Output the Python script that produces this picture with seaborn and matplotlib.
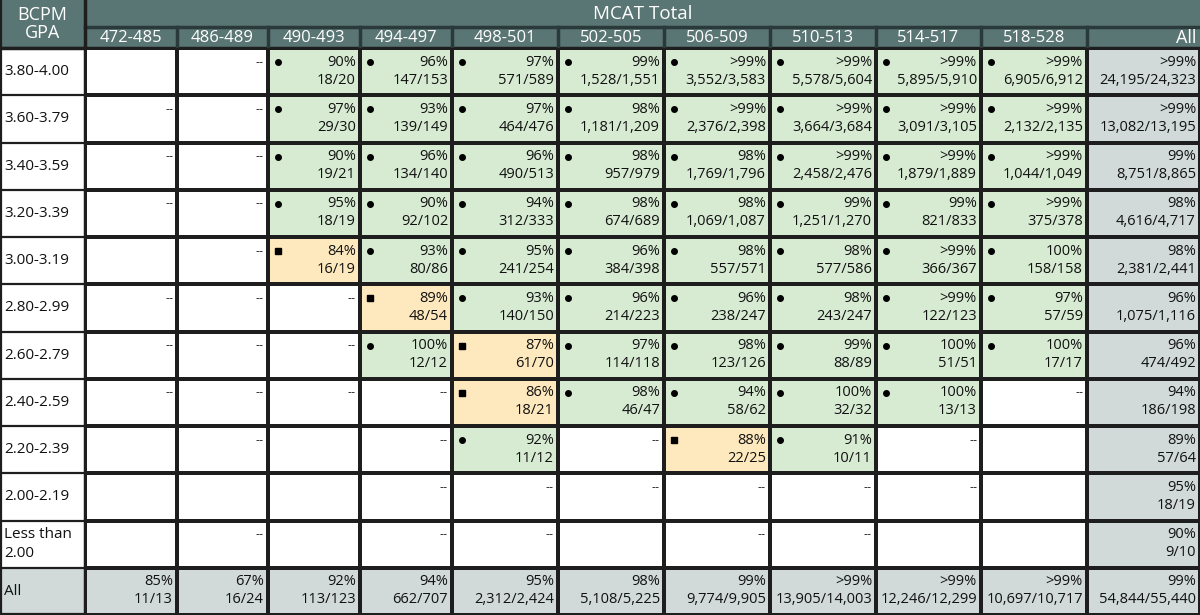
import numpy as np
import pandas as pd
import seaborn as sns
import matplotlib
matplotlib.use("Agg")
import matplotlib.pyplot as plt
from matplotlib.colors import ListedColormap
from matplotlib.patches import Rectangle
from matplotlib.transforms import offset_copy

FONT = "Open Sans"
columns = ["472-485", "486-489", "490-493", "494-497", "498-501", "502-505",
           "506-509", "510-513", "514-517", "518-528", "All"]
row_labels = ["3.80-4.00", "3.60-3.79", "3.40-3.59", "3.20-3.39", "3.00-3.19",
              "2.80-2.99", "2.60-2.79", "2.40-2.59", "2.20-2.39", "2.00-2.19",
              "Less than\n2.00", "All"]

# cell format: "g|pct|count" (green, dot), "y|pct|count" (yellow, square),
# "a|pct|count" (summary, grey), "--" (dash), "" (empty)
r00 = ["", "--", "g|90%|18/20", "g|96%|147/153", "g|97%|571/589", "g|99%|1,528/1,551",
       "g|>99%|3,552/3,583", "g|>99%|5,578/5,604", "g|>99%|5,895/5,910", "g|>99%|6,905/6,912", "a|>99%|24,195/24,323"]
r01 = ["--", "--", "g|97%|29/30", "g|93%|139/149", "g|97%|464/476", "g|98%|1,181/1,209",
       "g|>99%|2,376/2,398", "g|>99%|3,664/3,684", "g|>99%|3,091/3,105", "g|>99%|2,132/2,135", "a|>99%|13,082/13,195"]
r02 = ["--", "--", "g|90%|19/21", "g|96%|134/140", "g|96%|490/513", "g|98%|957/979",
       "g|98%|1,769/1,796", "g|>99%|2,458/2,476", "g|>99%|1,879/1,889", "g|>99%|1,044/1,049", "a|99%|8,751/8,865"]
r03 = ["--", "--", "g|95%|18/19", "g|90%|92/102", "g|94%|312/333", "g|98%|674/689",
       "g|98%|1,069/1,087", "g|99%|1,251/1,270", "g|99%|821/833", "g|>99%|375/378", "a|98%|4,616/4,717"]
r04 = ["", "--", "y|84%|16/19", "g|93%|80/86", "g|95%|241/254", "g|96%|384/398",
       "g|98%|557/571", "g|98%|577/586", "g|>99%|366/367", "g|100%|158/158", "a|98%|2,381/2,441"]
r05 = ["--", "--", "--", "y|89%|48/54", "g|93%|140/150", "g|96%|214/223",
       "g|96%|238/247", "g|98%|243/247", "g|>99%|122/123", "g|97%|57/59", "a|96%|1,075/1,116"]
r06 = ["--", "--", "--", "g|100%|12/12", "y|87%|61/70", "g|97%|114/118",
       "g|98%|123/126", "g|99%|88/89", "g|100%|51/51", "g|100%|17/17", "a|96%|474/492"]
r07 = ["--", "--", "--", "--", "y|86%|18/21", "g|98%|46/47",
       "g|94%|58/62", "g|100%|32/32", "g|100%|13/13", "--", "a|94%|186/198"]
r08 = ["", "--", "", "--", "g|92%|11/12", "--",
       "y|88%|22/25", "g|91%|10/11", "--", "", "a|89%|57/64"]
r09 = ["", "", "", "--", "--", "--", "--", "--", "--", "", "a|95%|18/19"]
r10 = ["", "--", "", "--", "--", "", "--", "--", "", "", "a|90%|9/10"]
r11 = ["a|85%|11/13", "a|67%|16/24", "a|92%|113/123", "a|94%|662/707", "a|95%|2,312/2,424",
       "a|98%|5,108/5,225", "a|99%|9,774/9,905", "a|>99%|13,905/14,003", "a|>99%|12,246/12,299",
       "a|>99%|10,697/10,717", "a|99%|54,844/55,440"]
cells = [r00, r01, r02, r03, r04, r05, r06, r07, r08, r09, r10, r11]

code = {"g": 1, "y": 2, "a": 3}
status = np.array([[code.get(c.split("|")[0], 0) if "|" in c else 0 for c in r] for r in cells])
df = pd.DataFrame(status, index=row_labels, columns=columns)

W, H = 1200, 615
LW, HH = 85, 48
# column edges in pixels (layout)
edges_px = np.array([85, 177, 268, 360, 452, 558, 664, 770, 876, 981, 1087, 1200], float)
idx = np.arange(len(edges_px), dtype=float)

fig = plt.figure(figsize=(12, 6.15), dpi=100)
bg = fig.add_axes([0, 0, 1, 1])
bg.set_xlim(0, W); bg.set_ylim(H, 0); bg.axis("off")

ax = fig.add_axes([LW / W, 0, (W - LW) / W, (H - HH) / H])
cmap = ListedColormap(["#ffffff", "#d7ebd3", "#fde9bd", "#d1d9d9"])
sns.heatmap(df, ax=ax, cmap=cmap, vmin=-0.5, vmax=3.5, cbar=False,
            linewidths=1.6, linecolor="#1e1e1e", xticklabels=False, yticklabels=False)
ax.set_xscale("function", functions=(lambda x: np.interp(x, idx, edges_px),
                                     lambda x: np.interp(x, edges_px, idx)))
ax.set_xlim(0, len(columns))
ax.set_xticks([]); ax.set_yticks([])
ax.set_xlabel(""); ax.set_ylabel("")

tr_r = offset_copy(ax.transData, fig=fig, x=-4, y=0, units="dots")
tr_l = offset_copy(ax.transData, fig=fig, x=10, y=0, units="dots")
nR, nC = df.shape
for i, r in enumerate(cells):
    for j, c in enumerate(r):
        if c == "--":
            ax.text(j + 1, i + 0.3, "--", ha="right", va="center", fontsize=9, family=FONT, color="#222", transform=tr_r)
        elif "|" in c:
            k, p, n = c.split("|")
            ax.text(j + 1, i + 0.3, p, ha="right", va="center", fontsize=10.5, family=FONT, color="#111", transform=tr_r)
            ax.text(j + 1, i + 0.68, n, ha="right", va="center", fontsize=10.5, family=FONT, color="#111", transform=tr_r)
            if k == "g":
                ax.plot(j, i + 0.3, "o", ms=4, color="black", transform=tr_l)
            elif k == "y":
                ax.plot(j, i + 0.3, "s", ms=5, color="black", transform=tr_l)

# header
hdr = "#5a7674"
rh = (H - HH) / nR
bg.add_patch(Rectangle((0, 0), W, HH, color=hdr))
bg.add_patch(Rectangle((0, H - rh), LW, rh, color="#d1d9d9"))
bg.plot([LW, W], [27, 27], color="#2a3a3a", lw=2.5)
bg.plot([0, W], [HH, HH], color="#1e1e1e", lw=2.5)
bg.plot([LW, LW], [0, H], color="#1e1e1e", lw=2.5)
for x in edges_px[1:-1]:
    bg.plot([x, x], [27, HH], color="#2a3a3a", lw=2.5)
for i in range(nR + 1):
    bg.plot([0, LW], [HH + i * rh] * 2, color="#1e1e1e", lw=1.6)
bg.plot([0.8, 0.8], [0, H], color="#1e1e1e", lw=1.6)
bg.plot([0, W], [H - 0.8, H - 0.8], color="#1e1e1e", lw=1.6)
bg.text(LW / 2, HH / 2, "BCPM\nGPA", ha="center", va="center", color="white", fontsize=13, family=FONT, linespacing=1.05)
bg.text((LW + W) / 2, 14, "MCAT Total", ha="center", va="center", color="white", fontsize=13.5, family=FONT)
for j, col in enumerate(columns):
    if col == "All":
        bg.text(W - 4, 38, col, ha="right", va="center", color="white", fontsize=13, family=FONT)
    else:
        bg.text((edges_px[j] + edges_px[j + 1]) / 2, 38, col, ha="center", va="center",
                color="white", fontsize=12, family=FONT)
for i, lab in enumerate(row_labels):
    bg.text(4, HH + (i + 0.5) * rh, lab, ha="left", va="center", fontsize=11, family=FONT, color="#111", linespacing=1.3)

fig.savefig("out.png", dpi=100)
